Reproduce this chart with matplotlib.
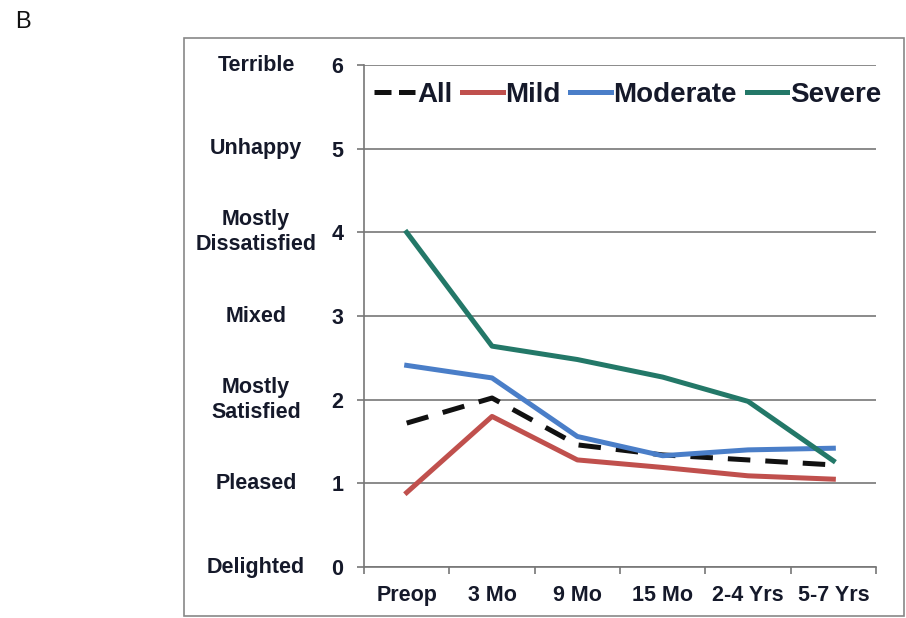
import matplotlib.pyplot as plt
from matplotlib.patches import Rectangle

plt.rcParams['font.family'] = ['Liberation Sans', 'DejaVu Sans']
plt.rcParams['font.weight'] = 'bold'

# Dane
okresy = ['Preop', '3 Mo', '9 Mo', '15 Mo', '2-4 Yrs', '5-7 Yrs']
wszyscy = [1.72, 2.02, 1.46, 1.34, 1.28, 1.22]
lagodne = [0.89, 1.80, 1.28, 1.19, 1.09, 1.05]
umiarkowane = [2.41, 2.26, 1.56, 1.33, 1.40, 1.42]
ciezkie = [4.00, 2.64, 2.48, 2.27, 1.98, 1.27]
opisy = ['Delighted', 'Pleased', 'Mostly\nSatisfied', 'Mixed',
         'Mostly\nDissatisfied', 'Unhappy', 'Terrible']

kolor_tekstu = '#15192a'
x = list(range(len(okresy)))

fig = plt.figure(figsize=(9.06, 6.18), dpi=100)
ax = fig.add_axes([0.4018, 0.0825, 0.5651, 0.8123])

ax.plot(x, wszyscy, color='#111111', lw=3.6, dashes=(4.5, 3), label='All')
ax.plot(x, lagodne, color='#c0504d', lw=3.6, label='Mild')
ax.plot(x, umiarkowane, color='#4a7ec8', lw=3.6, label='Moderate')
ax.plot(x, ciezkie, color='#237868', lw=3.6, label='Severe')

ax.set_xlim(-0.5, 5.5)
ax.set_ylim(0, 6)
ax.set_yticks(range(7))
ax.yaxis.grid(True, color='#777777', lw=1.2)
ax.set_axisbelow(True)

ax.set_xticks(x)
ax.set_xticklabels(okresy)
ax.set_xticks([i - 0.5 for i in range(7)], minor=True)
ax.tick_params(axis='x', which='major', length=0, pad=13, labelsize=15.5, labelcolor=kolor_tekstu)
ax.tick_params(axis='x', which='minor', length=5, width=1.2, color='#777777', direction='out')
ax.tick_params(axis='y', length=5, width=1.2, color='#777777', pad=10, labelsize=15.5, labelcolor=kolor_tekstu)

for s in ['top', 'right']:
    ax.spines[s].set_visible(False)
for s in ['left', 'bottom']:
    ax.spines[s].set_color('#777777')
    ax.spines[s].set_linewidth(1.2)

trans = ax.get_yaxis_transform()
for i, opis in enumerate(opisy):
    ax.text(-0.211, i, opis, transform=trans, ha='center', va='center',
            fontsize=15.5, color=kolor_tekstu, linespacing=1.25)

leg = ax.legend(loc='center', bbox_to_anchor=(0.515, 0.94), ncol=4, frameon=False,
                fontsize=20, handlelength=1.45, handletextpad=0.1, columnspacing=0.35)
for t in leg.get_texts():
    t.set_color(kolor_tekstu)
leg.get_lines()[0].set_dashes((3.4, 1.5))

fig.patches.append(Rectangle((184 / 906, 2 / 618), 720 / 906, 578 / 618,
                             transform=fig.transFigure, fill=False,
                             edgecolor='#888888', lw=1.2))
fig.text(15 / 906, 1 - 22 / 618, 'B', fontsize=17, fontweight='normal',
         ha='left', va='center', color='#111111')

fig.savefig('out.png', dpi=100)
